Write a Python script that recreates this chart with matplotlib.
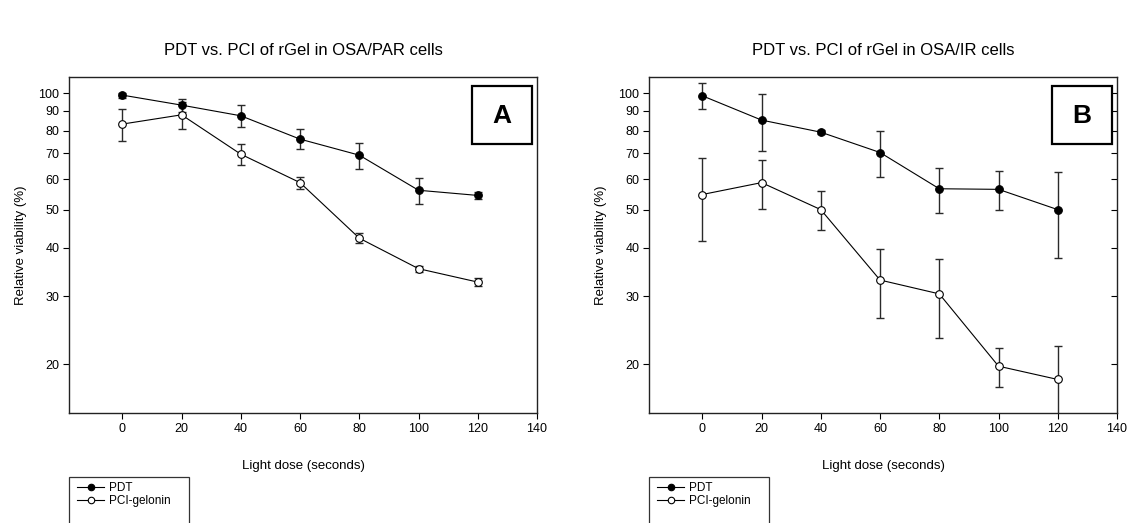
import numpy as np
import matplotlib
matplotlib.use("Agg")
import matplotlib.pyplot as plt
from matplotlib.ticker import FixedLocator, NullLocator, FixedFormatter
from matplotlib.patches import Rectangle

plt.rcParams['font.family'] = ['Liberation Sans', 'DejaVu Sans']

# light dose (seconds)
dose = [0, 20, 40, 60, 80, 100, 120]

# panel A: OSA/PAR cells
par_pdt = [98.8, 93.1, 87.4, 76.1, 69.2, 56.2, 54.5]
par_pdt_err = [1.5, 3.5, 5.5, 4.5, 5.3, 4.3, 1.0]
par_pci = [83.2, 87.9, 69.6, 58.8, 42.3, 35.3, 32.6]
par_pci_err = [7.8, 7.2, 4.2, 2.1, 1.3, 0.6, 0.75]

# panel B: OSA/IR cells
ir_pdt = [98.4, 85.2, 79.3, 70.3, 56.7, 56.5, 50.1]
ir_pdt_err = [7.6, 14.3, 0.8, 9.6, 7.6, 6.5, 12.4]
ir_pci = [54.8, 58.8, 50.1, 33.0, 30.4, 19.8, 18.3]
ir_pci_err = [13.3, 8.5, 5.8, 6.6, 7.0, 2.3, 4.0]

yticks = [20, 30, 40, 50, 60, 70, 80, 90, 100]
xticks = [0, 20, 40, 60, 80, 100, 120, 140]

W, H = 1131, 523
fig = plt.figure(figsize=(W / 100, H / 100), dpi=100)


def px_axes(x0, y0, x1, y1):
    return fig.add_axes([x0 / W, 1 - y1 / H, (x1 - x0) / W, (y1 - y0) / H])


def draw_panel(ax, pdt, pdt_err, pci, pci_err, title, letter, right_ticks):
    ax.errorbar(dose, pdt, yerr=pdt_err, fmt='none', ecolor='#2a2a2a',
                elinewidth=1.0, capsize=3.2, capthick=1.0, zorder=2)
    ax.errorbar(dose, pci, yerr=pci_err, fmt='none', ecolor='#2a2a2a',
                elinewidth=1.0, capsize=3.2, capthick=1.0, zorder=2)
    l1, = ax.plot(dose, pdt, '-o', color='black', lw=0.8, ms=5.5,
                  mfc='black', mec='black', mew=0.8, zorder=3, label='PDT')
    l2, = ax.plot(dose, pci, '-o', color='black', lw=0.8, ms=5.5,
                  mfc='white', mec='black', mew=0.8, zorder=3, label='PCI-gelonin')

    ax.set_yscale('log')
    ax.set_ylim(15, 110)
    ax.set_xlim(-18, 140)
    ax.yaxis.set_major_locator(FixedLocator(yticks))
    ax.yaxis.set_major_formatter(FixedFormatter([str(v) for v in yticks]))
    ax.yaxis.set_minor_locator(NullLocator())
    ax.set_xticks(xticks)
    ax.tick_params(axis='both', labelsize=9, length=4, width=0.8, direction='out', pad=3)
    if right_ticks:
        ax.yaxis.set_tick_params(which='major', right=True)
        for t in ax.yaxis.get_major_ticks():
            t.tick2line.set_marker(matplotlib.markers.TICKLEFT)
    for s in ax.spines.values():
        s.set_linewidth(1.0)
        s.set_color('#222222')

    ax.set_xlabel('Light dose (seconds)', fontsize=9.5, labelpad=18)
    ax.set_ylabel('Relative viability (%)', fontsize=9.5, labelpad=8)
    ax.set_title(title, fontsize=12, pad=16)

    ax.add_patch(Rectangle((0.861, 0.801), 0.128, 0.172, transform=ax.transAxes,
                           fc='white', ec='black', lw=1.6, zorder=5))
    ax.text(0.925, 0.885, letter, transform=ax.transAxes, fontsize=19,
            fontweight='bold', ha='center', va='center', zorder=6)
    return l1, l2


ax_a = px_axes(69, 77, 537, 413)
ax_b = px_axes(649, 77, 1117, 413)

h_a = draw_panel(ax_a, par_pdt, par_pdt_err, par_pci, par_pci_err,
                 'PDT vs. PCI of rGel in OSA/PAR cells', 'A', False)
h_b = draw_panel(ax_b, ir_pdt, ir_pdt_err, ir_pci, ir_pci_err,
                 'PDT vs. PCI of rGel in OSA/IR cells', 'B', True)

# legend boxes below each panel (cut off by the figure edge)
for x0, handles in [(69, h_a), (649, h_b)]:
    fig.patches.append(Rectangle((x0 / W, -0.05), 120 / W, 0.05 + 1 - 477 / H,
                                 transform=fig.transFigure, fill=False,
                                 ec='#333333', lw=0.9))
    fig.legend(handles=handles, loc='upper left',
               bbox_to_anchor=((x0 + 8) / W, 1 - 482 / H),
               frameon=False, fontsize=8.5, handlelength=2.3, handletextpad=0.45,
               labelspacing=0.12, borderpad=0, borderaxespad=0, markerscale=0.85)

fig.savefig('out.png', dpi=100)
